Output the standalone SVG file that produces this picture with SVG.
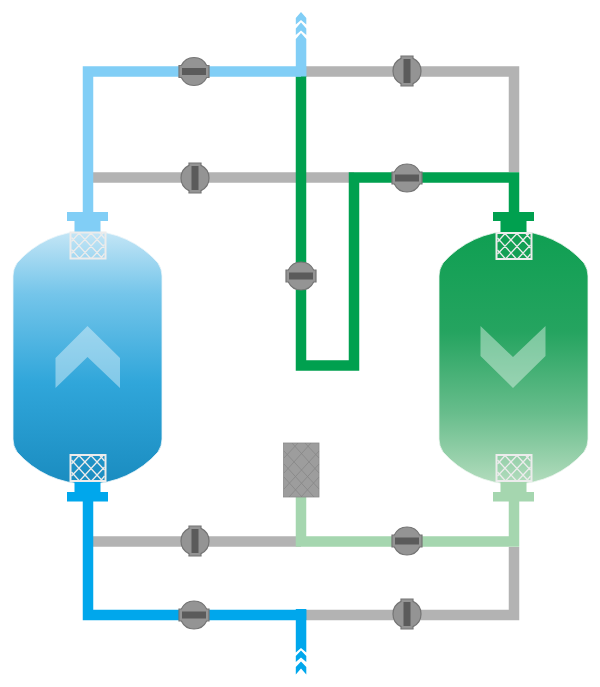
<svg xmlns="http://www.w3.org/2000/svg" width="600" height="687" viewBox="0 0 600 687">
<style>
.p{fill:none;stroke-width:10.5;stroke-linejoin:miter}
.gr{stroke:#b3b3b3}.lb{stroke:#81cef6}.db{stroke:#00a7ec}.dg{stroke:#00a04f}.lg{stroke:#a5d6af}
.mesh{fill:none;stroke:#ececec;stroke-width:1.3}
.fr{fill:none;stroke:#ececec;stroke-width:2}
.body{fill:#949494;stroke:#757575;stroke-width:1.2}
.bar{fill:#5b5b5b}
.chev{fill:#fff;fill-opacity:.4}
</style>
<defs>
<linearGradient id="gb" x1="0" y1="0" x2="0" y2="1"><stop offset="0" stop-color="#c5e6f6"/><stop offset=".25" stop-color="#74c5ea"/><stop offset=".6" stop-color="#30a6da"/><stop offset="1" stop-color="#1a8cc0"/></linearGradient>
<linearGradient id="gg" x1="0" y1="0" x2="0" y2="1"><stop offset="0" stop-color="#0f9f52"/><stop offset=".4" stop-color="#25a460"/><stop offset=".72" stop-color="#68bd8c"/><stop offset="1" stop-color="#b3dcbd"/></linearGradient>
<g id="net">
<path class="fr" d="M0 0h35v26H0z"/>
<path class="mesh" d="M1 5L20 26M1 17L9 26M8 0L32 26M20 0L34 15M29 0L34 6M1 21L21 0M1 9L9 0M9 26L33 0M21 26L34 12M30 26L34 21"/>
</g>
<g id="vh">
<path class="body" d="M-15-6h2.350a14 14 0 0 1 25.300 0h2.350v12h-2.350a14 14 0 0 1-25.300 0h-2.350z"/>
<rect class="bar" x="-12" y="-3.500" width="24" height="7"/>
</g>
<g id="vv"><use href="#vh" transform="rotate(90)"/></g>
</defs>
<g id="tank-left">
<path d="M13 276Q13 269 17 263A93.500 93.500 0 0 1 158 263Q162 269 162 276V439Q162 446 158 452A93.500 93.500 0 0 1 17 452Q13 446 13 439Z" fill="url(#gb)" stroke="#eef6fa" stroke-width=".8"/>
<path class="chev" d="M87.500 326L120 358V388L87.500 357L55.500 388V358Z"/>
</g>
<g id="tank-right">
<path d="M439 276Q439 269 443 263A93.500 93.500 0 0 1 584 263Q588 269 588 276V439Q588 446 584 452A93.500 93.500 0 0 1 443 452Q439 446 439 439Z" fill="url(#gg)" stroke="#eef6f0" stroke-width=".8"/>
<path class="chev" d="M480.500 326L513 357L545.500 326V356L513 388L480.500 356Z"/>
</g>
<g id="connectors">
<path class="p gr" d="M306 71.500H514V172"/>
<path class="p gr" d="M93 177.500H354"/>
<path class="p gr" d="M93 541.500H301"/>
<path class="p gr" d="M306 615H514V547"/>
<path class="p dg" d="M301 76V365.500H354V177.500H514V215"/>
<path class="p lg" d="M301 497V541.500H514V495"/>
<path class="p lb" d="M301 76V71.500H88V215"/>
<path class="p db" d="M88 495V615H301V620"/>
<path d="M295.800 76.500V39L301 33L306.300 39V76.500Z" fill="#81cef6"/>
<path d="M295.800 18L301 12L306.300 18V24.500L301 20L295.800 24.500ZM295.800 28.500L301 22.500L306.300 28.500V35L301 30.500L295.800 35Z" fill="#81cef6"/>
<path d="M295.800 609V652.500L301 648L306.300 652.500V609Z" fill="#00a7ec"/>
<path d="M295.800 656L301 650.500L306.300 656V662L301 657.500L295.800 662ZM295.800 667L301 661.500L306.300 667V674.500L301 668.500L295.800 674.500Z" fill="#00a7ec"/>
</g>
<g id="fitting-lt" fill="#81cef6"><rect x="67" y="212" width="41" height="9"/><rect x="74.500" y="221" width="26" height="12"/></g>
<g id="fitting-lb" fill="#00a7ec"><rect x="74.500" y="481" width="26" height="11"/><rect x="67" y="492" width="41" height="9.500"/></g>
<g id="fitting-rt" fill="#00a04f"><rect x="493" y="212" width="41" height="9"/><rect x="500.500" y="221" width="26" height="12"/></g>
<g id="fitting-rb" fill="#a5d6af"><rect x="500.500" y="481" width="26" height="11"/><rect x="493" y="492" width="41" height="9.500"/></g>
<g id="filter-lt"><use href="#net" x="70.500" y="232.500"/></g>
<g id="filter-lb"><use href="#net" x="70.500" y="455"/></g>
<g id="filter-rt"><use href="#net" x="496.500" y="233"/></g>
<g id="filter-rb"><use href="#net" x="496.500" y="455"/></g>
<g id="filter-center">
<rect x="283.500" y="443" width="35.500" height="54" fill="#9d9d9d" stroke="#8a8a8a" stroke-width=".8"/>
<path d="M284 451L319 489M284 464L314 497M284 477L302 497M292 443L319 473M305 443L319 458M319 451L284 489M319 464L289 497M319 477L301 497M311 443L284 473M298 443L284 458" fill="none" stroke="#868686" stroke-width=".8"/>
</g>
<g id="valve-1"><use href="#vh" x="194" y="71.500"/></g>
<g id="valve-2"><use href="#vv" x="407" y="71"/></g>
<g id="valve-3"><use href="#vv" x="195" y="178"/></g>
<g id="valve-4"><use href="#vh" x="407" y="178"/></g>
<g id="valve-5"><use href="#vh" x="301" y="276"/></g>
<g id="valve-6"><use href="#vv" x="195" y="541"/></g>
<g id="valve-7"><use href="#vh" x="407" y="541"/></g>
<g id="valve-8"><use href="#vh" x="194" y="615"/></g>
<g id="valve-9"><use href="#vv" x="407" y="614"/></g>
</svg>
